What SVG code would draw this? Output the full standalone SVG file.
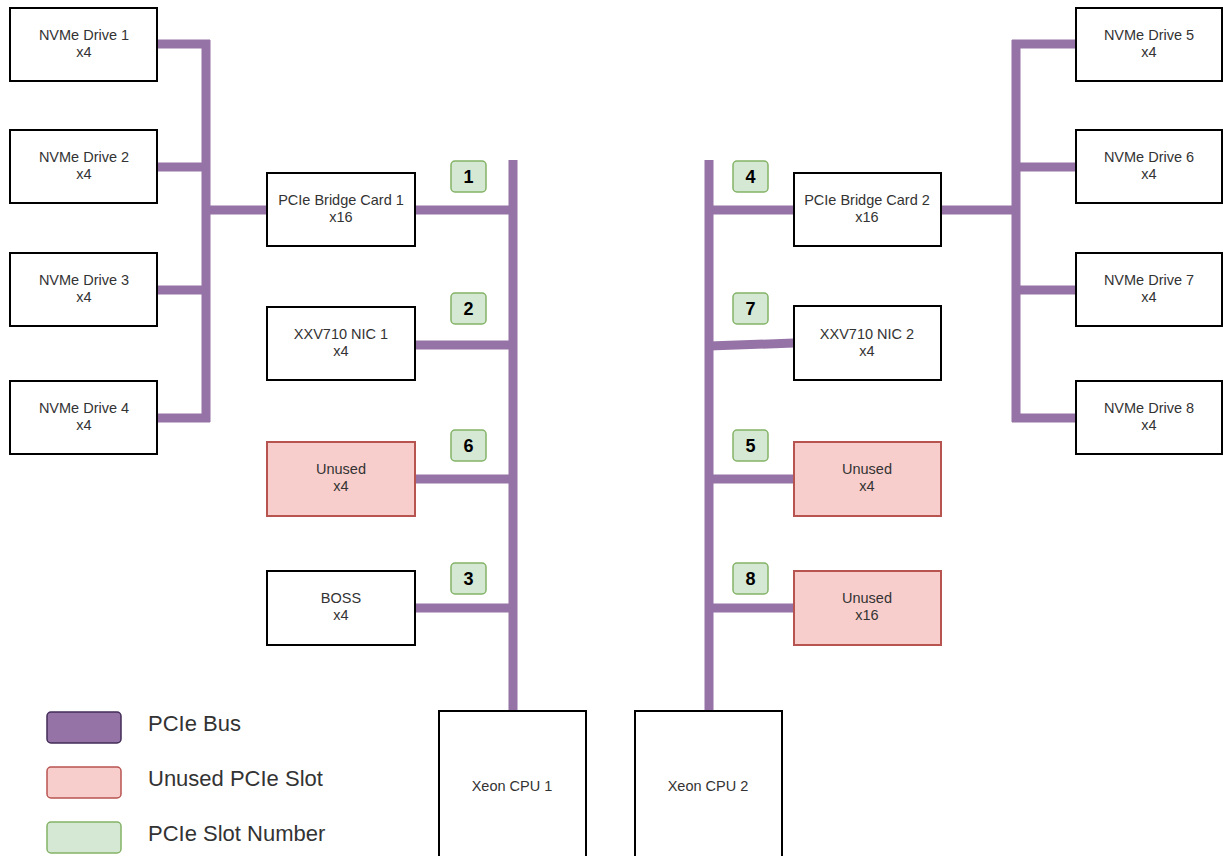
<svg xmlns="http://www.w3.org/2000/svg" width="1223" height="856" viewBox="0 0 1223 856">
<style>
.box{fill:#ffffff;stroke:#000000;stroke-width:2}
.unused{fill:#f8cecc;stroke:#b85450;stroke-width:2}
.badge{fill:#d5e8d4;stroke:#82b366;stroke-width:1.5}
.bus{stroke:#9673a6;stroke-width:9;fill:none;stroke-linecap:butt}
.t{font-family:"Liberation Sans",Arial,sans-serif;font-size:14.5px;fill:#333;text-anchor:middle}
.n{font-family:"Liberation Sans",Arial,sans-serif;font-size:18px;font-weight:bold;fill:#000;text-anchor:middle}
.lg{font-family:"Liberation Sans",Arial,sans-serif;font-size:22px;fill:#333}
</style>
<rect width="1223" height="856" fill="#ffffff"/>
<g id="connectors">
<line class="bus" x1="206" y1="40" x2="206" y2="422"/>
<line class="bus" x1="157" y1="44" x2="210" y2="44"/>
<line class="bus" x1="157" y1="167" x2="206" y2="167"/>
<line class="bus" x1="157" y1="290" x2="206" y2="290"/>
<line class="bus" x1="157" y1="418" x2="210" y2="418"/>
<line class="bus" x1="206" y1="210" x2="267" y2="210"/>
<line class="bus" x1="513" y1="160" x2="513" y2="711"/>
<line class="bus" x1="415" y1="210" x2="513" y2="210"/>
<line class="bus" x1="415" y1="345" x2="513" y2="345"/>
<line class="bus" x1="415" y1="479" x2="513" y2="479"/>
<line class="bus" x1="415" y1="608" x2="513" y2="608"/>
<line class="bus" x1="709" y1="160" x2="709" y2="711"/>
<line class="bus" x1="709" y1="210" x2="794" y2="210"/>
<line class="bus" x1="709" y1="346" x2="794" y2="343"/>
<line class="bus" x1="709" y1="479" x2="794" y2="479"/>
<line class="bus" x1="709" y1="608" x2="794" y2="608"/>
<line class="bus" x1="1016" y1="40" x2="1016" y2="422"/>
<line class="bus" x1="941" y1="210" x2="1016" y2="210"/>
<line class="bus" x1="1012" y1="44" x2="1076" y2="44"/>
<line class="bus" x1="1016" y1="167" x2="1076" y2="167"/>
<line class="bus" x1="1016" y1="290" x2="1076" y2="290"/>
<line class="bus" x1="1012" y1="418" x2="1076" y2="418"/>
</g>
<g id="nvme1"><rect class="box" x="10" y="8" width="147" height="73"/><text class="t" x="84" y="40">NVMe Drive 1</text><text class="t" x="84" y="57">x4</text></g>
<g id="nvme2"><rect class="box" x="10" y="130" width="147" height="73"/><text class="t" x="84" y="162">NVMe Drive 2</text><text class="t" x="84" y="179">x4</text></g>
<g id="nvme3"><rect class="box" x="10" y="253" width="147" height="73"/><text class="t" x="84" y="285">NVMe Drive 3</text><text class="t" x="84" y="302">x4</text></g>
<g id="nvme4"><rect class="box" x="10" y="381" width="147" height="73"/><text class="t" x="84" y="413">NVMe Drive 4</text><text class="t" x="84" y="430">x4</text></g>
<g id="nvme5"><rect class="box" x="1076" y="8" width="146" height="73"/><text class="t" x="1149" y="40">NVMe Drive 5</text><text class="t" x="1149" y="57">x4</text></g>
<g id="nvme6"><rect class="box" x="1076" y="130" width="146" height="73"/><text class="t" x="1149" y="162">NVMe Drive 6</text><text class="t" x="1149" y="179">x4</text></g>
<g id="nvme7"><rect class="box" x="1076" y="253" width="146" height="73"/><text class="t" x="1149" y="285">NVMe Drive 7</text><text class="t" x="1149" y="302">x4</text></g>
<g id="nvme8"><rect class="box" x="1076" y="381" width="146" height="73"/><text class="t" x="1149" y="413">NVMe Drive 8</text><text class="t" x="1149" y="430">x4</text></g>
<g id="bridge1"><rect class="box" x="267" y="173" width="148" height="73"/><text class="t" x="341" y="205">PCIe Bridge Card 1</text><text class="t" x="341" y="222">x16</text></g>
<g id="nic1"><rect class="box" x="267" y="307" width="148" height="73"/><text class="t" x="341" y="339">XXV710 NIC 1</text><text class="t" x="341" y="356">x4</text></g>
<g id="unused6"><rect class="unused" x="267" y="442" width="148" height="74"/><text class="t" x="341" y="474">Unused</text><text class="t" x="341" y="491">x4</text></g>
<g id="boss"><rect class="box" x="267" y="571" width="148" height="74"/><text class="t" x="341" y="603">BOSS</text><text class="t" x="341" y="620">x4</text></g>
<g id="bridge2"><rect class="box" x="794" y="173" width="147" height="73"/><text class="t" x="867" y="205">PCIe Bridge Card 2</text><text class="t" x="867" y="222">x16</text></g>
<g id="nic2"><rect class="box" x="794" y="306" width="147" height="74"/><text class="t" x="867" y="339">XXV710 NIC 2</text><text class="t" x="867" y="356">x4</text></g>
<g id="unused5"><rect class="unused" x="794" y="442" width="147" height="74"/><text class="t" x="867" y="474">Unused</text><text class="t" x="867" y="491">x4</text></g>
<g id="unused8"><rect class="unused" x="794" y="571" width="147" height="74"/><text class="t" x="867" y="603">Unused</text><text class="t" x="867" y="620">x16</text></g>
<g id="cpu1"><rect class="box" x="439" y="711" width="147" height="150"/><text class="t" x="512" y="791">Xeon CPU 1</text></g>
<g id="cpu2"><rect class="box" x="635" y="711" width="147" height="150"/><text class="t" x="708" y="791">Xeon CPU 2</text></g>
<g id="slot1"><rect class="badge" x="451" y="161" width="35" height="31" rx="4"/><text class="n" x="468.5" y="183">1</text></g>
<g id="slot2"><rect class="badge" x="451" y="293" width="35" height="31" rx="4"/><text class="n" x="468.5" y="315">2</text></g>
<g id="slot6"><rect class="badge" x="451" y="430" width="35" height="31" rx="4"/><text class="n" x="468.5" y="452">6</text></g>
<g id="slot3"><rect class="badge" x="451" y="563" width="35" height="31" rx="4"/><text class="n" x="468.5" y="585">3</text></g>
<g id="slot4"><rect class="badge" x="733" y="161" width="35" height="31" rx="4"/><text class="n" x="750.5" y="183">4</text></g>
<g id="slot7"><rect class="badge" x="733" y="293" width="35" height="31" rx="4"/><text class="n" x="750.5" y="315">7</text></g>
<g id="slot5"><rect class="badge" x="733" y="430" width="35" height="31" rx="4"/><text class="n" x="750.5" y="452">5</text></g>
<g id="slot8"><rect class="badge" x="733" y="563" width="35" height="31" rx="4"/><text class="n" x="750.5" y="585">8</text></g>
<g id="legend">
<rect x="47" y="712" width="74" height="31" rx="4" fill="#9673a6" stroke="#432d57" stroke-width="1.5"/>
<text class="lg" x="148" y="731">PCIe Bus</text>
<rect x="47" y="767" width="74" height="31" rx="4" fill="#f8cecc" stroke="#b85450" stroke-width="1.5"/>
<text class="lg" x="148" y="786">Unused PCIe Slot</text>
<rect x="47" y="822" width="74" height="31" rx="4" fill="#d5e8d4" stroke="#82b366" stroke-width="1.5"/>
<text class="lg" x="148" y="841">PCIe Slot Number</text>
</g>
</svg>
